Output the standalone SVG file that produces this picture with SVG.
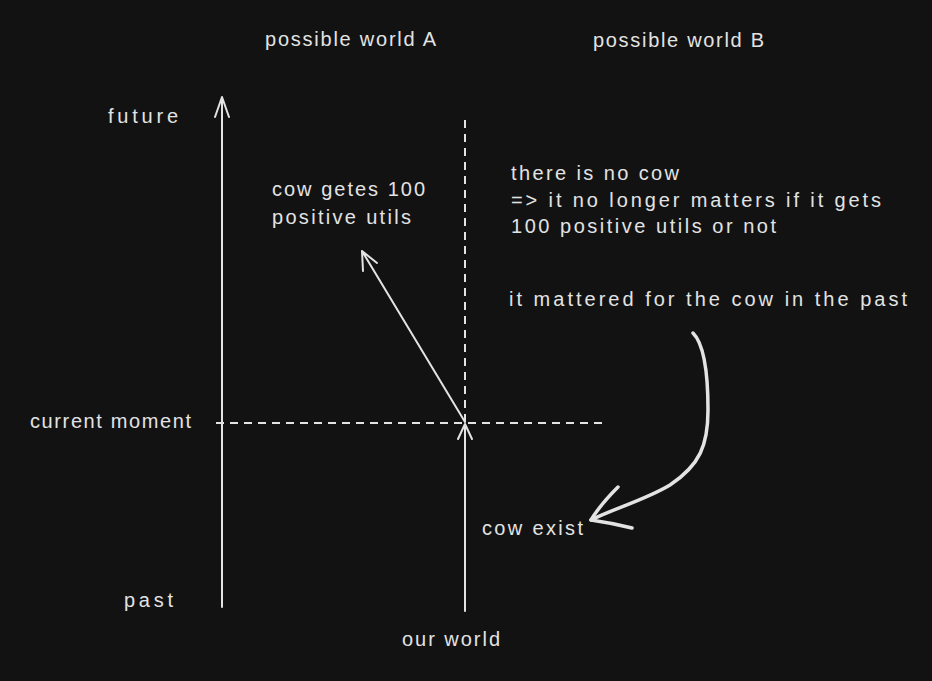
<svg xmlns="http://www.w3.org/2000/svg" width="932" height="681" viewBox="0 0 932 681">
<style>
text{font-family:"Liberation Sans",Arial,sans-serif;font-size:20px;fill:#e3e3e3}
.l{fill:none;stroke:#e3e3e3;stroke-width:2;stroke-linecap:round;stroke-linejoin:round}
.d{fill:none;stroke:#e3e3e3;stroke-width:2;stroke-dasharray:8 6}
.t{fill:none;stroke:#e3e3e3;stroke-width:3.5;stroke-linecap:round;stroke-linejoin:round}
</style>
<rect width="932" height="681" fill="#121212"/>
<g id="connectors">
<path class="l" d="M222 607 L222 97 M215 117 L222 97 L229 117"/>
<path class="d" d="M465 120 L465 422"/>
<path class="d" d="M216 423 L603 423"/>
<path class="l" d="M465 611 L465 424 M458 439 L465 424 L472 439"/>
<path class="l" d="M465 422 L362 251 M363 271 L362 251 L377 263"/>
<path class="t" d="M693 333 C705 345 708 375 708 410 C708 445 700 465 670 485 C645 500 615 508 591 520"/>
<path class="t" d="M618 487 Q600 505 591 520 Q612 523 632 528"/>
</g>
<g id="possible-world-a"><text x="265" y="46" textLength="171" lengthAdjust="spacing">possible world A</text></g>
<g id="possible-world-b"><text x="593" y="47" textLength="171" lengthAdjust="spacing">possible world B</text></g>
<g id="future"><text x="108" y="123" textLength="70" lengthAdjust="spacing">future</text></g>
<g id="cow-gets"><text x="272" y="196" textLength="153" lengthAdjust="spacing">cow getes 100</text><text x="272" y="224" textLength="139" lengthAdjust="spacing">positive utils</text></g>
<g id="no-cow"><text x="511" y="180" textLength="168" lengthAdjust="spacing">there is no cow</text><text x="511" y="207" textLength="370" lengthAdjust="spacing">=&gt; it no longer matters if it gets</text><text x="511" y="233" textLength="265" lengthAdjust="spacing">100 positive utils or not</text></g>
<g id="mattered"><text x="509" y="306" textLength="398" lengthAdjust="spacing">it mattered for the cow in the past</text></g>
<g id="current-moment"><text x="30" y="428" textLength="161" lengthAdjust="spacing">current moment</text></g>
<g id="cow-exist"><text x="482" y="535" textLength="101" lengthAdjust="spacing">cow exist</text></g>
<g id="past"><text x="124" y="607" textLength="49" lengthAdjust="spacing">past</text></g>
<g id="our-world"><text x="402" y="646" textLength="98" lengthAdjust="spacing">our world</text></g>
</svg>
